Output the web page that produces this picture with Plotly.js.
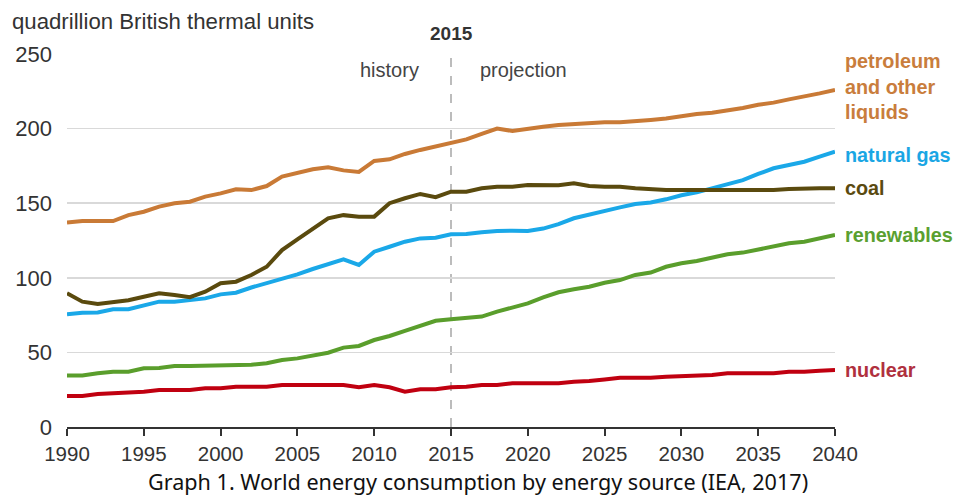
<!DOCTYPE html>
<html>
<head>
<meta charset="utf-8">
<script src="https://cdn.plot.ly/plotly-3.0.1.min.js"></script>
<style>
html,body{margin:0;padding:0;background:#fff;}
#chart{width:955px;height:495px;}
</style>
</head>
<body>
<div id="chart"></div>
<script>
const years = [1990,1991,1992,1993,1994,1995,1996,1997,1998,1999,2000,2001,2002,2003,2004,2005,2006,2007,2008,2009,2010,2011,2012,2013,2014,2015,2016,2017,2018,2019,2020,2021,2022,2023,2024,2025,2026,2027,2028,2029,2030,2031,2032,2033,2034,2035,2036,2037,2038,2039,2040];

const petroleum = [137,138,138,138,142,144.3,147.7,150,151,154.4,156.6,159.3,158.8,161.5,167.8,170.5,172.7,174,172,171,178.3,179.4,183,185.7,188,190.8,192.8,196.4,200,198.4,200,201.3,202.4,202.9,204,204.2,204.2,205.3,205.8,206.8,208.4,209.8,210.7,212,213.8,216,217.4,219.6,221.4,223.6,225.9];
const naturalGas = [75.5,76.6,76.8,78.9,79,81.8,84,84,85,86.2,88.9,90,93.5,96.3,99.7,102.3,105.9,109,112.4,108.6,117.5,120.8,124.2,126.4,126.9,129.2,129.3,130.5,131.4,131.6,131.4,133,136,139.9,142.5,145,147.2,149.5,150.5,152.6,155.3,157.3,160,162.9,165.5,169.6,173.4,175.6,177.8,181.2,184.5];
const coal = [89.6,84,82.4,84,85,87.3,89.6,88.5,87,90.7,96.3,97.4,101.9,107.4,118.6,125.8,133,139.9,142,141,141,150,153.3,156.2,154,157.7,157.7,160,161,161,162.2,162,162,163.3,161.5,161,161,160,159.3,158.8,158.8,158.8,158.8,158.8,158.8,158.8,158.8,159.5,160,160,160];
const renewables = [34.6,34.6,36,37,37,39.3,39.6,40.9,40.9,41,41.5,41.5,41.8,42.7,44.9,46,47.6,49.8,53.2,54.3,58.3,61,64.5,67.7,71.2,72.2,72.9,74,77.3,80,82.9,86.9,90.3,92.3,94,96.7,98.5,101.9,103.5,107.4,109.7,111.3,113.5,115.8,116.9,119.1,120.8,123.1,124.2,126.4,128.7];
const nuclear = [20.8,20.8,22.1,22.6,23.7,23.7,24.8,24.8,24.8,25.9,25.9,27,27,27,28.2,28.2,28.2,28.2,28.2,26.6,28.2,26.6,23.7,25.3,25.3,26.6,27,28.2,28.2,29.3,29.3,29.3,29.3,30.4,30.8,31.9,33,33,33,33.7,34,34.9,34.9,36,36,36,36,37,37,37.7,38.2];

const seriesNames = ['petroleum<br>and other<br>liquids','natural gas','coal','renewables','nuclear'];
const seriesData = [petroleum, naturalGas, coal, renewables, nuclear];
const lineColors = ['#c97a36','#1aa8e8','#5a4a0e','#5a9e2c','#c00010'];
const labelColors = ['#c97d3c','#1aa6e4','#5a4a10','#5aa030','#b0303e'];
const labelOffsets = [2.5, -2, 0, 0, 0];

const yTicks = [0,50,100,150,200,250];
const xTicks = [1990,1995,2000,2005,2010,2015,2020,2025,2030,2035,2040];
const dividerYear = 2015;

const traces = seriesData.map((d,i)=>({
  x: years, y: d, type:'scatter', mode:'lines',
  line:{color:lineColors[i], width:4},
  hoverinfo:'skip', showlegend:false
}));

const labelAnn = seriesData.map((d,i)=>({
  xref:'paper', yref:'y', x:1, y:d[d.length-1]+labelOffsets[i],
  xanchor:'left', yanchor:'middle', xshift:8, align:'left',
  text:'<b>'+seriesNames[i]+'</b>', showarrow:false,
  font:{family:'Liberation Sans, Arial, sans-serif', size:19.8, color:labelColors[i]}
}));

const layout = {
  width:955, height:495,
  margin:{l:67, r:120, t:54, b:68},
  paper_bgcolor:'#fff', plot_bgcolor:'#fff',
  font:{family:'Liberation Sans, Arial, sans-serif', color:'#333'},
  xaxis:{
    range:[1990,2040], tickvals:xTicks, ticktext:xTicks.map(String),
    showgrid:false, zeroline:false, showline:true, linecolor:'#333', linewidth:2,
    ticks:'outside', ticklen:7, tickwidth:2, tickcolor:'#333',
    tickfont:{size:20.5, color:'#333'}, fixedrange:true
  },
  yaxis:{
    range:[0,250], tickvals:yTicks, ticktext:yTicks.map(String),
    showgrid:true, gridcolor:'#d9d9d9', gridwidth:1.5, zeroline:false, showline:false,
    ticks:'', ticklabelstandoff:14,
    tickfont:{size:22, color:'#333'}, fixedrange:true
  },
  shapes:[{
    type:'line', xref:'x', yref:'paper', x0:dividerYear, x1:dividerYear, y0:0, y1:1,
    line:{color:'#a6a6a6', width:1.5, dash:'dash'}, layer:'below'
  }],
  annotations: labelAnn.concat([
    {xref:'paper', yref:'paper', x:-0.0742, y:1.088, xanchor:'left', yanchor:'middle',
     text:'quadrillion British thermal units', showarrow:false,
     font:{size:22.2, color:'#333'}},
    {xref:'x', yref:'paper', x:dividerYear, y:1.056, xanchor:'center', yanchor:'middle',
     text:'<b>2015</b>', showarrow:false, font:{size:19, color:'#333'}},
    {xref:'x', yref:'paper', x:dividerYear, y:0.957, xanchor:'right', yanchor:'middle', xshift:-30,
     text:'history', showarrow:false, font:{size:20, color:'#444'}},
    {xref:'x', yref:'paper', x:dividerYear, y:0.957, xanchor:'left', yanchor:'middle', xshift:27,
     text:'projection', showarrow:false, font:{size:20, color:'#444'}},
    {xref:'paper', yref:'paper', x:0.535, y:-0.145, xanchor:'center', yanchor:'middle',
     text:'Graph 1. World energy consumption by energy source (IEA, 2017)', showarrow:false,
     font:{family:'Noto Sans, Open Sans, sans-serif', size:21.6, color:'#111'}}
  ])
};

Plotly.newPlot('chart', traces, layout, {displayModeBar:false, staticPlot:true});
</script>
</body>
</html>
